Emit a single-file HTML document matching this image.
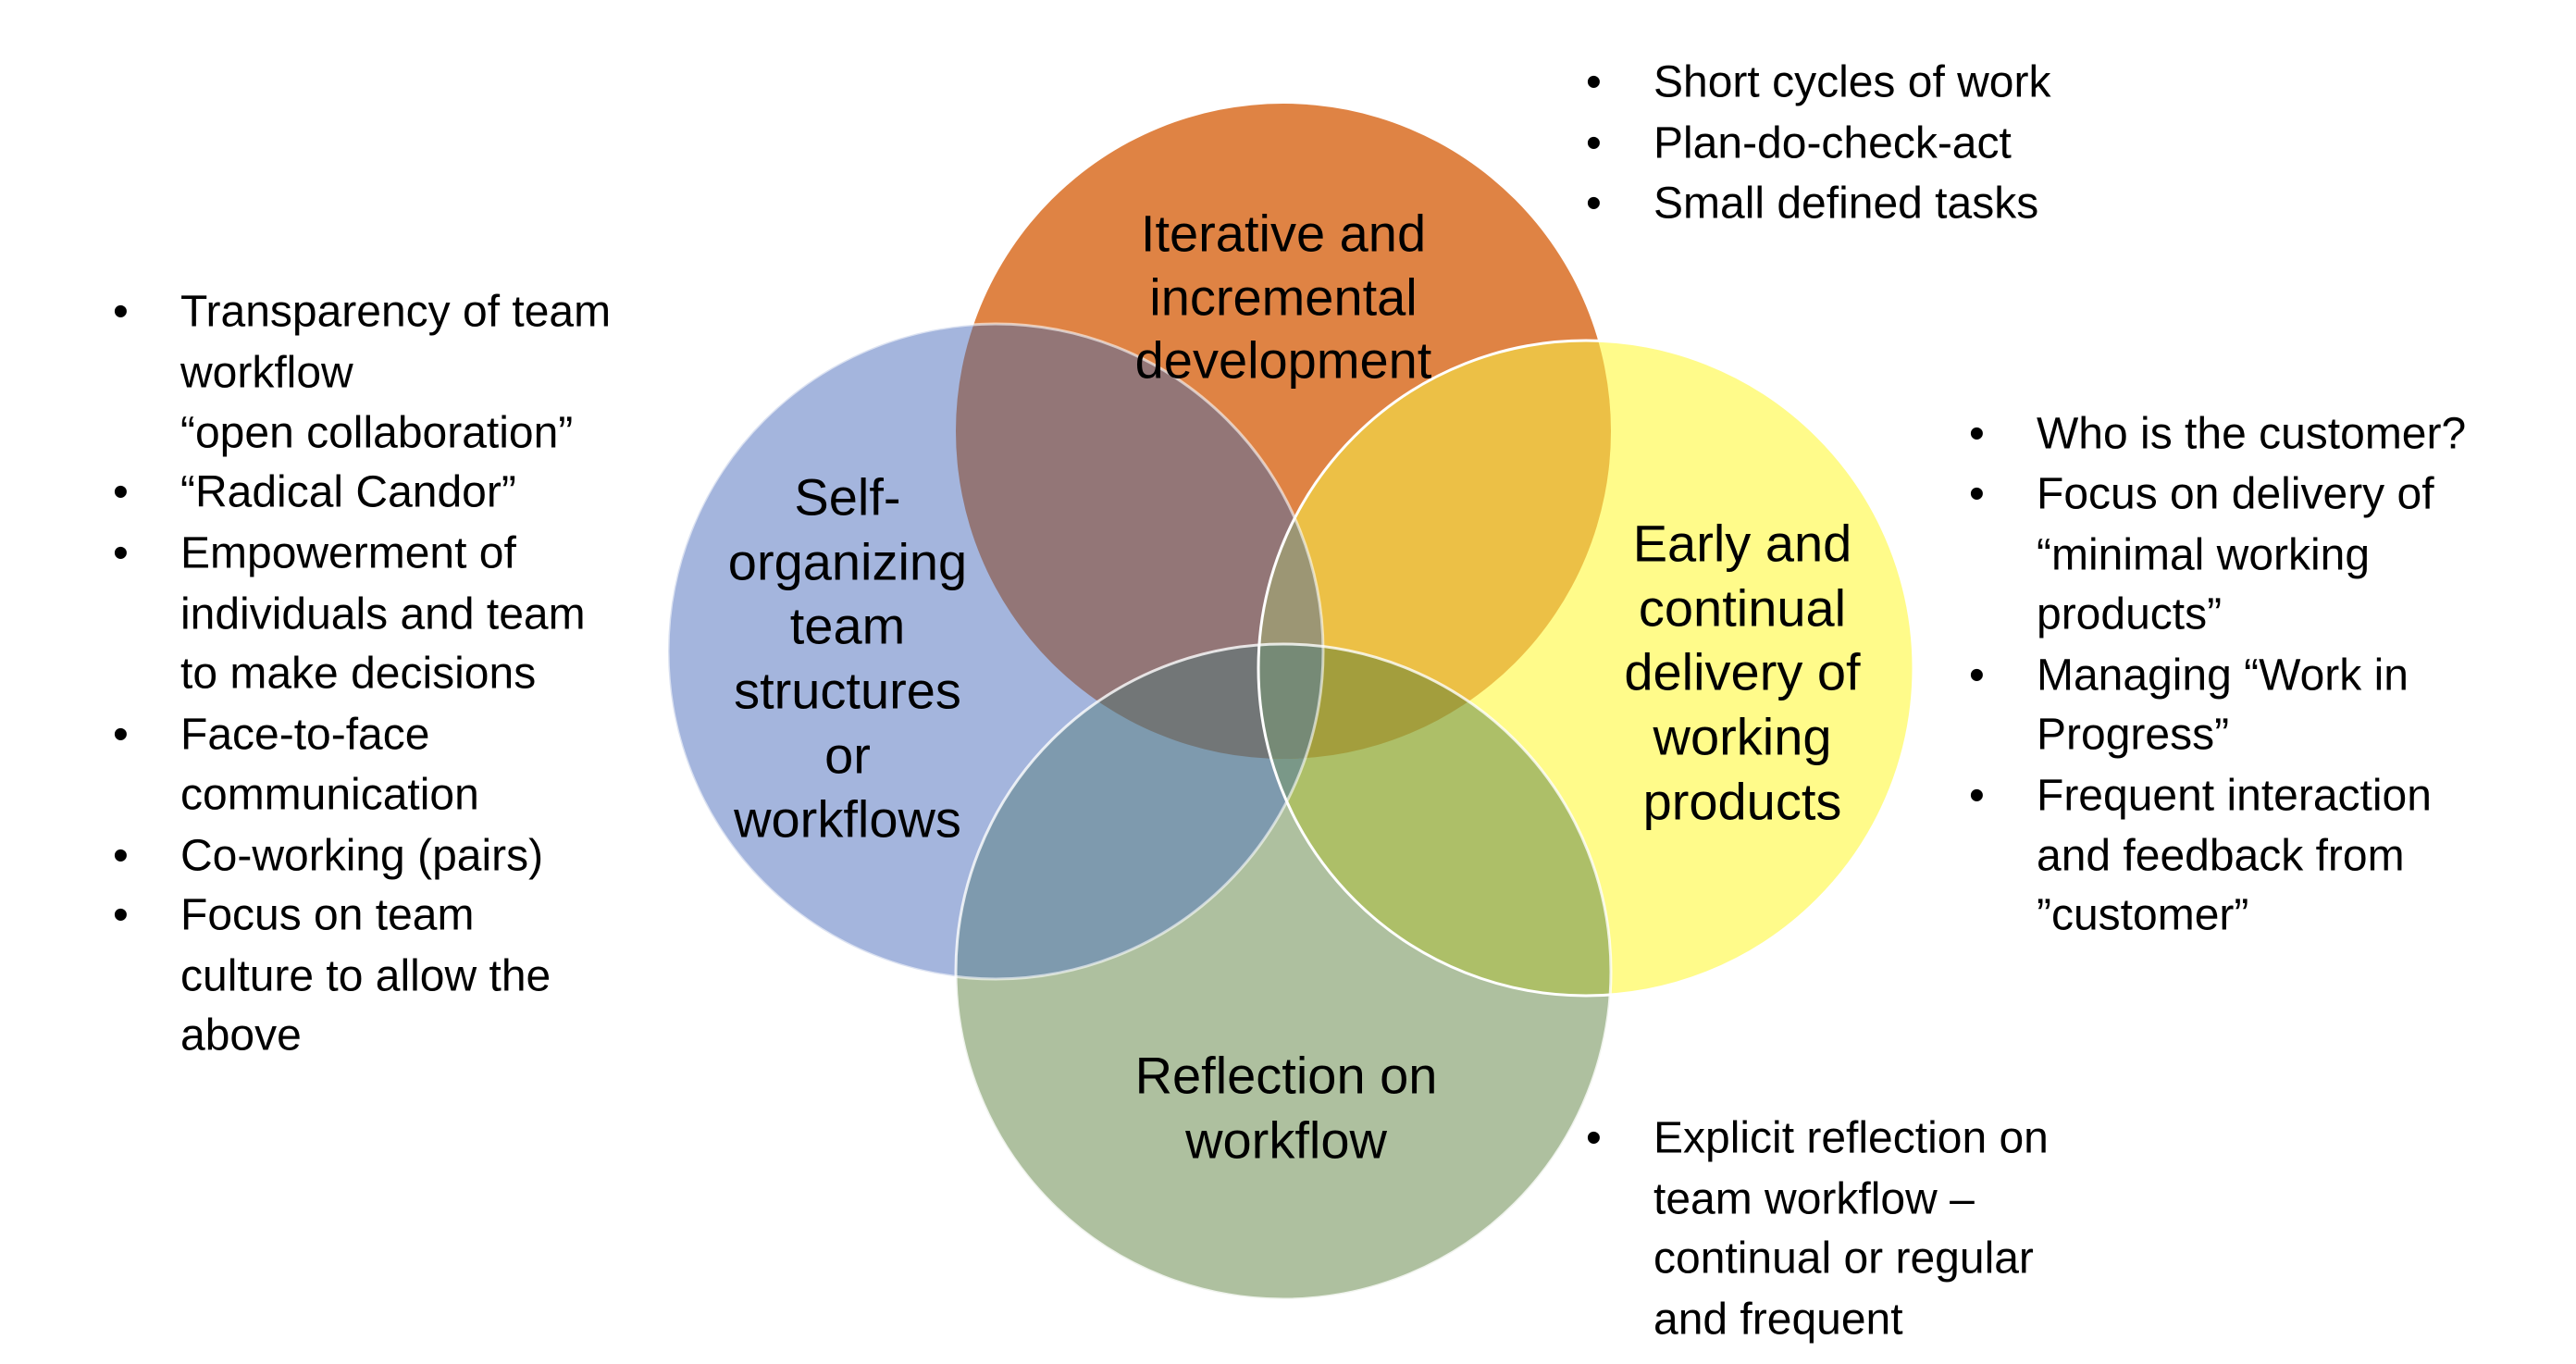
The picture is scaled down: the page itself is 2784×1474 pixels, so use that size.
<!DOCTYPE html>
<html><head><meta charset="utf-8"><style>
html,body{margin:0;padding:0;background:#fff;}
svg{display:block;}
text{font-family:"Liberation Sans",sans-serif;fill:#000;}
</style></head><body>
<svg width="2784" height="1474" viewBox="0 0 2784 1474" xmlns="http://www.w3.org/2000/svg">
<defs>
<clipPath id="cO"><circle cx="1387" cy="466" r="354"/></clipPath>
<clipPath id="cB"><circle cx="1076" cy="704" r="354"/></clipPath>
<clipPath id="cY"><circle cx="1714" cy="722" r="354"/></clipPath>
<clipPath id="cG"><circle cx="1387" cy="1050" r="354"/></clipPath>
</defs>
<circle cx="1387" cy="466" r="354" fill="#DF8344"/>
<circle cx="1076" cy="704" r="354" fill="#A4B5DD"/>
<circle cx="1714" cy="722" r="354" fill="#FFFB8A"/>
<circle cx="1387" cy="1050" r="354" fill="#AEC09F"/>
<g clip-path="url(#cO)"><circle cx="1076" cy="704" r="354" fill="#937677"/></g>
<g clip-path="url(#cO)"><circle cx="1714" cy="722" r="354" fill="#ECC046"/></g>
<g clip-path="url(#cB)"><circle cx="1387" cy="1050" r="354" fill="#7E9AAE"/></g>
<g clip-path="url(#cY)"><circle cx="1387" cy="1050" r="354" fill="#ADBF68"/></g>
<g clip-path="url(#cB)"><circle cx="1714" cy="722" r="354" fill="#7A9888"/></g>
<g clip-path="url(#cO)"><g clip-path="url(#cB)"><circle cx="1714" cy="722" r="354" fill="#9C9674"/></g></g>
<g clip-path="url(#cO)"><g clip-path="url(#cB)"><circle cx="1387" cy="1050" r="354" fill="#727677"/></g></g>
<g clip-path="url(#cO)"><g clip-path="url(#cY)"><circle cx="1387" cy="1050" r="354" fill="#A39E3D"/></g></g>
<g clip-path="url(#cO)"><g clip-path="url(#cB)"><g clip-path="url(#cY)"><circle cx="1387" cy="1050" r="354" fill="#768A76"/></g></g></g>
<circle cx="1076" cy="704" r="354" fill="none" stroke="#fff" stroke-opacity="0.6" stroke-width="3"/>
<circle cx="1387" cy="1050" r="354" fill="none" stroke="#fff" stroke-opacity="0.8" stroke-width="3"/>
<circle cx="1714" cy="722" r="354" fill="none" stroke="#fff" stroke-width="3"/>

<g font-size="56" text-anchor="middle" dominant-baseline="central">
<text x="1387" y="252">Iterative and</text>
<text x="1387" y="321">incremental</text>
<text x="1387" y="389">development</text>
<text x="916" y="537">Self-</text>
<text x="916" y="607">organizing</text>
<text x="916" y="676">team</text>
<text x="916" y="746">structures</text>
<text x="916" y="816">or</text>
<text x="916" y="885">workflows</text>
<text x="1883" y="587">Early and</text>
<text x="1883" y="657">continual</text>
<text x="1883" y="726">delivery of</text>
<text x="1883" y="796">working</text>
<text x="1883" y="866">products</text>
<text x="1390" y="1162">Reflection on</text>
<text x="1390" y="1232">workflow</text>
</g>

<g font-size="48" dominant-baseline="central">
<text x="122" y="337">•</text><text x="195" y="337">Transparency of team</text>
<text x="195" y="403">workflow</text>
<text x="195" y="468">“open collaboration”</text>
<text x="122" y="532">•</text><text x="195" y="532">“Radical Candor”</text>
<text x="122" y="598">•</text><text x="195" y="598">Empowerment of</text>
<text x="195" y="664">individuals and team</text>
<text x="195" y="728">to make decisions</text>
<text x="122" y="794">•</text><text x="195" y="794">Face-to-face</text>
<text x="195" y="859">communication</text>
<text x="122" y="925">•</text><text x="195" y="925">Co-working (pairs)</text>
<text x="122" y="989">•</text><text x="195" y="989">Focus on team</text>
<text x="195" y="1055">culture to allow the</text>
<text x="195" y="1119">above</text>

<text x="1714" y="89">•</text><text x="1787" y="89">Short cycles of work</text>
<text x="1714" y="155">•</text><text x="1787" y="155">Plan-do-check-act</text>
<text x="1714" y="220">•</text><text x="1787" y="220">Small defined tasks</text>

<text x="2128" y="469">•</text><text x="2201" y="469">Who is the customer?</text>
<text x="2128" y="534">•</text><text x="2201" y="534">Focus on delivery of</text>
<text x="2201" y="600">“minimal working</text>
<text x="2201" y="664">products”</text>
<text x="2128" y="730">•</text><text x="2201" y="730">Managing “Work in</text>
<text x="2201" y="794">Progress”</text>
<text x="2128" y="860">•</text><text x="2201" y="860">Frequent interaction</text>
<text x="2201" y="925">and feedback from</text>
<text x="2201" y="989">”customer”</text>

<text x="1714" y="1230">•</text><text x="1787" y="1230">Explicit reflection on</text>
<text x="1787" y="1296">team workflow –</text>
<text x="1787" y="1360">continual or regular</text>
<text x="1787" y="1426">and frequent</text>
</g>
</svg>
</body></html>
